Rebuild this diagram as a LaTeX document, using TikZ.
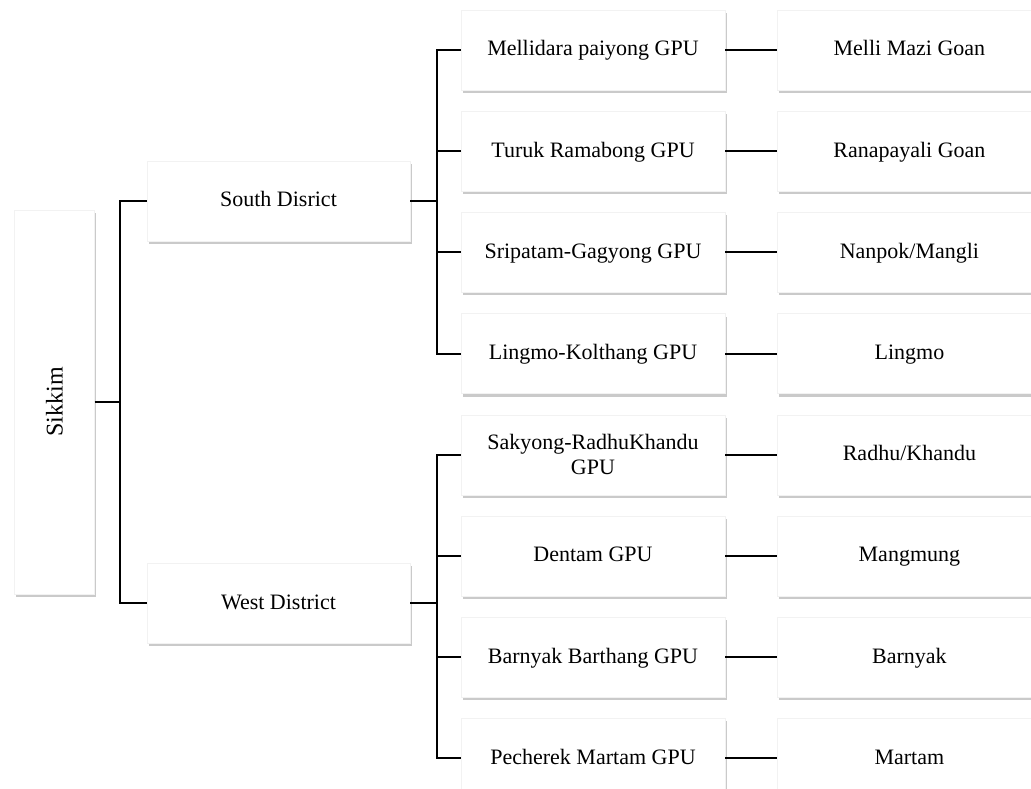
\documentclass[tikz,border=0pt]{standalone}
\usepackage{fontspec}
\setmainfont{Liberation Serif}
\usetikzlibrary{positioning}
\usetikzlibrary{shadows}
\tikzstyle{unit} = [rectangle,
minimum width=264pt,
minimum height=80pt,
inner sep=2pt,
text height=16pt,
text depth=4pt,
text centered,
align=center,
draw=black!5,
fill=white,
font=\fontsize{22}{25}\selectfont,
drop shadow={shadow xshift=1.5pt, shadow yshift=-3pt, opacity=0.35, fill=black!60}]
\tikzstyle{conn} = [line width=2pt]

\begin{document}
\begin{tikzpicture}[x=1pt, y=1pt]
    \useasboundingbox (0,0) rectangle (1031,788);

    \node[unit, minimum width=80pt, minimum height=384pt, text height=, text depth=,
          font=\fontsize{24}{27}\selectfont] (sikkim) at (54.5,386) {\rotatebox{90}{Sikkim}};

    \node[unit, minimum width=263pt] (south) at (278.5,587) {South Disrict};
    \node[unit, minimum width=263pt] (west) at (278.5,185) {West District};

    \node[unit] (mellidara) at (593,738) {Mellidara paiyong GPU};
    \node[unit] (turuk) [below=20.8pt of mellidara] {Turuk Ramabong GPU};
    \node[unit] (sripatam) [below=20.8pt of turuk] {Sripatam-Gagyong GPU};
    \node[unit] (lingmogpu) [below=20.8pt of sripatam] {Lingmo-Kolthang GPU};
    \node[unit, text height=, text depth=] (sakyong) [below=20.8pt of lingmogpu] {Sakyong-RadhuKhandu\\GPU};
    \node[unit] (dentam) [below=20.8pt of sakyong] {Dentam GPU};
    \node[unit] (barnyakgpu) [below=20.8pt of dentam] {Barnyak Barthang GPU};
    \node[unit] (pecherek) [below=20.8pt of barnyakgpu] {Pecherek Martam GPU};

    \node[unit] (melli) [right=52pt of mellidara] {Melli Mazi Goan};
    \node[unit] (ranapayali) [right=52pt of turuk] {Ranapayali Goan};
    \node[unit] (nanpok) [right=52pt of sripatam] {Nanpok/Mangli};
    \node[unit] (lingmo) [right=52pt of lingmogpu] {Lingmo};
    \node[unit] (radhu) [right=52pt of sakyong] {Radhu/Khandu};
    \node[unit] (mangmung) [right=52pt of dentam] {Mangmung};
    \node[unit] (barnyak) [right=52pt of barnyakgpu] {Barnyak};
    \node[unit] (martam) [right=52pt of pecherek] {Martam};

    % elbows
    \coordinate (lspine) at (120,386);
    \coordinate (sspine) at (437,587);
    \coordinate (wspine) at (437,185);

    \draw[conn] (sikkim.east) -- (lspine);
    \draw[conn] (south.west) -| (lspine) |- (west.west);

    \draw[conn] (south.east) -- (sspine);
    \draw[conn] (mellidara.west) -| (sspine) |- (lingmogpu.west);
    \draw[conn] (turuk.west) -- (turuk.west -| sspine);
    \draw[conn] (sripatam.west) -- (sripatam.west -| sspine);

    \draw[conn] (west.east) -- (wspine);
    \draw[conn] (sakyong.west) -| (wspine) |- (pecherek.west);
    \draw[conn] (dentam.west) -- (dentam.west -| wspine);
    \draw[conn] (barnyakgpu.west) -- (barnyakgpu.west -| wspine);

    \draw[conn] (mellidara) -- (melli);
    \draw[conn] (turuk) -- (ranapayali);
    \draw[conn] (sripatam) -- (nanpok);
    \draw[conn] (lingmogpu) -- (lingmo);
    \draw[conn] (sakyong) -- (radhu);
    \draw[conn] (dentam) -- (mangmung);
    \draw[conn] (barnyakgpu) -- (barnyak);
    \draw[conn] (pecherek) -- (martam);
\end{tikzpicture}
\end{document}
